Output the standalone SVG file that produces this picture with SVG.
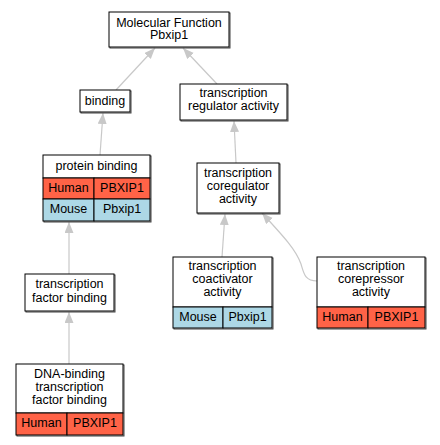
<svg xmlns="http://www.w3.org/2000/svg" width="440" height="445" viewBox="0 0 440 445">
<style>
text{font-family:"Liberation Sans",Arial,sans-serif;font-size:12.5px;fill:#000;text-anchor:middle}
.b{fill:#fff;stroke:#000;stroke-width:1}
.sh{fill:none;stroke:#444;stroke-width:1}
.hu{fill:#ff6347;stroke:#000;stroke-width:1}
.mo{fill:#add8e6;stroke:#000;stroke-width:1}
.e{fill:none;stroke:#c8c8c8;stroke-width:1.2}
</style>
<defs>
<marker id="ah" markerUnits="userSpaceOnUse" markerWidth="12" markerHeight="10" refX="11" refY="4.5" orient="auto">
<path d="M0,0 L11,4.5 L0,9 z" fill="#c8c8c8"/>
</marker>
</defs>
<g id="edges">
<line class="e" x1="116" y1="90" x2="155" y2="48" marker-end="url(#ah)"/>
<line class="e" x1="217" y1="84" x2="183" y2="48" marker-end="url(#ah)"/>
<line class="e" x1="100" y1="155" x2="103" y2="113" marker-end="url(#ah)"/>
<line class="e" x1="236" y1="163" x2="234" y2="121" marker-end="url(#ah)"/>
<line class="e" x1="222" y1="257" x2="225" y2="214" marker-end="url(#ah)"/>
<path class="e" d="M317,281 C305,281 304,274 301,264 C296,250 285,238 262,213" marker-end="url(#ah)"/>
<line class="e" x1="69" y1="274" x2="69" y2="222" marker-end="url(#ah)"/>
<line class="e" x1="69" y1="364" x2="69" y2="312" marker-end="url(#ah)"/>
</g>
<g id="mf">
<rect class="sh" x="110" y="13" width="120" height="35"/>
<rect class="b" x="109" y="12" width="120" height="35"/>
<text x="169" y="26.5">Molecular Function</text>
<text x="169" y="39">Pbxip1</text>
</g>
<g id="binding">
<rect class="sh" x="81" y="91" width="50" height="22"/>
<rect class="b" x="80" y="90" width="50" height="22"/>
<text x="105" y="104.5">binding</text>
</g>
<g id="tra">
<rect class="sh" x="181" y="85" width="107" height="36"/>
<rect class="b" x="180" y="84" width="107" height="36"/>
<text x="233.5" y="97">transcription</text>
<text x="233.5" y="110">regulator activity</text>
</g>
<g id="pb">
<rect class="sh" x="44" y="156" width="107" height="66"/>
<rect class="b" x="43" y="155" width="107" height="23"/>
<rect class="hu" x="43" y="178" width="51" height="21"/>
<rect class="hu" x="94" y="178" width="56" height="21"/>
<rect class="mo" x="43" y="199" width="51" height="22"/>
<rect class="mo" x="94" y="199" width="56" height="22"/>
<text x="96.5" y="169.5">protein binding</text>
<text x="68.5" y="192">Human</text>
<text x="122" y="192">PBXIP1</text>
<text x="68.5" y="213">Mouse</text>
<text x="122" y="213">Pbxip1</text>
</g>
<g id="coreg">
<rect class="sh" x="198" y="164" width="82" height="50"/>
<rect class="b" x="197" y="163" width="82" height="50"/>
<text x="238" y="177">transcription</text>
<text x="238" y="189.5">coregulator</text>
<text x="238" y="202.5">activity</text>
</g>
<g id="coact">
<rect class="sh" x="174" y="258" width="99" height="71"/>
<rect class="b" x="173" y="257" width="99" height="50"/>
<rect class="mo" x="173" y="307" width="50" height="21"/>
<rect class="mo" x="223" y="307" width="49" height="21"/>
<text x="222.5" y="270">transcription</text>
<text x="222.5" y="283">coactivator</text>
<text x="222.5" y="296">activity</text>
<text x="198" y="321">Mouse</text>
<text x="247.5" y="321">Pbxip1</text>
</g>
<g id="corep">
<rect class="sh" x="318" y="258" width="108" height="71"/>
<rect class="b" x="317" y="257" width="108" height="50"/>
<rect class="hu" x="317" y="307" width="51" height="21"/>
<rect class="hu" x="368" y="307" width="57" height="21"/>
<text x="371" y="270">transcription</text>
<text x="371" y="283">corepressor</text>
<text x="371" y="296">activity</text>
<text x="342.5" y="321">Human</text>
<text x="396.5" y="321">PBXIP1</text>
</g>
<g id="tfb">
<rect class="sh" x="26" y="275" width="89" height="37"/>
<rect class="b" x="25" y="274" width="89" height="37"/>
<text x="69.5" y="288">transcription</text>
<text x="69.5" y="301.5">factor binding</text>
</g>
<g id="dna">
<rect class="sh" x="17" y="365" width="107" height="71"/>
<rect class="b" x="16" y="364" width="107" height="49"/>
<rect class="hu" x="16" y="413" width="51" height="22"/>
<rect class="hu" x="67" y="413" width="56" height="22"/>
<text x="69.5" y="378">DNA-binding</text>
<text x="69.5" y="391">transcription</text>
<text x="69.5" y="404">factor binding</text>
<text x="41.5" y="427">Human</text>
<text x="95" y="427">PBXIP1</text>
</g>
</svg>
